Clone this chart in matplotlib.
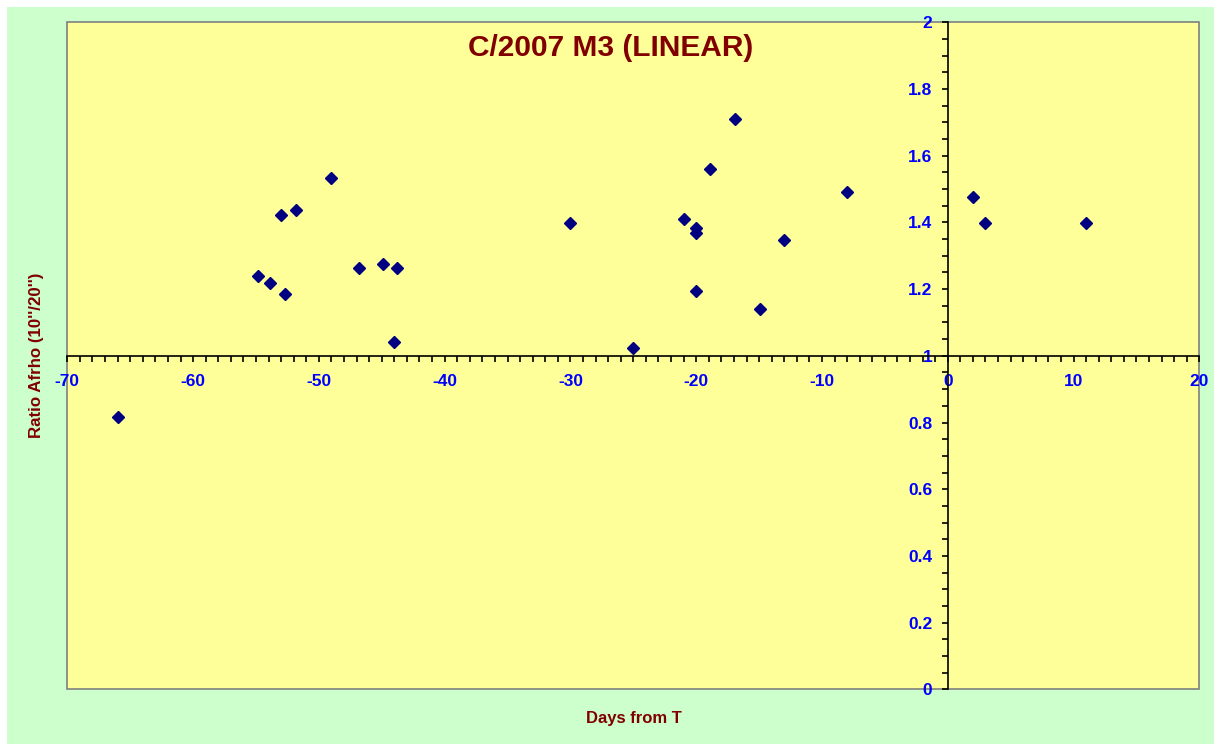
import matplotlib.pyplot as plt
from matplotlib.patches import Rectangle
from matplotlib.ticker import MultipleLocator, FuncFormatter

plt.rcParams['font.family'] = ['Liberation Sans', 'DejaVu Sans']

# Dias a partir de T e razao Afrho (10"/20")
days = [-66, -54.8, -53.9, -53, -52.7, -51.8, -49, -46.8, -44.9, -43.8, -44,
        -30, -25, -21, -20, -20, -20, -18.9, -16.9, -14.9, -13, -8, 2, 3, 11]
ratio = [0.817, 1.238, 1.217, 1.421, 1.184, 1.436, 1.532, 1.262, 1.275, 1.262, 1.040,
         1.397, 1.022, 1.409, 1.383, 1.369, 1.193, 1.559, 1.709, 1.139, 1.346, 1.490,
         1.475, 1.397, 1.397]

red = '#800000'
blue = '#0000FF'

fig = plt.figure(figsize=(12.21, 7.5), dpi=100)
fig.patch.set_facecolor('white')
# fundo verde do grafico
fig.patches.append(Rectangle((7/1221, 6/750), 1207/1221, 737/750, transform=fig.transFigure,
                             facecolor='#CCFFCC', edgecolor='none', zorder=-10))

ax = fig.add_axes([67.3/1221, 60.7/750, 1132/1221, 667/750])
ax.set_facecolor('#FFFF99')
ax.plot(days, ratio, linestyle='none', marker='D', markersize=6,
        color='#000080', zorder=5, clip_on=False)

ax.set_xlim(-70, 20)
ax.set_ylim(0, 2)

# eixos cruzando em x=0 e y=1
ax.spines['left'].set_position(('data', 0))
ax.spines['bottom'].set_position(('data', 1))
ax.spines['top'].set_visible(False)
ax.spines['right'].set_visible(False)
for s in ['left', 'bottom']:
    ax.spines[s].set_color('black')
    ax.spines[s].set_linewidth(1.2)
ax.add_patch(Rectangle((0, 0), 1, 1, transform=ax.transAxes, fill=False,
                       edgecolor='#808080', linewidth=1.2, clip_on=False, zorder=1))

ax.xaxis.set_major_locator(MultipleLocator(10))
ax.xaxis.set_minor_locator(MultipleLocator(1))
ax.yaxis.set_major_locator(MultipleLocator(0.2))
ax.yaxis.set_minor_locator(MultipleLocator(0.05))
ax.yaxis.set_major_formatter(FuncFormatter(lambda v, p: ('%.1f' % v).rstrip('0').rstrip('.')))
ax.xaxis.set_major_formatter(FuncFormatter(lambda v, p: '%d' % v))

ax.tick_params(which='both', direction='out', color='black', width=1.2)
ax.tick_params(which='major', length=4)
ax.tick_params(which='minor', length=4)
ax.tick_params(axis='x', which='major', pad=9)
ax.tick_params(axis='y', which='major', pad=7)
for lab in ax.get_xticklabels() + ax.get_yticklabels():
    lab.set_color(blue)
    lab.set_fontweight('bold')
    lab.set_fontsize(12.5)

fig.text(610.5/1221, 1 - 48/750, 'C/2007 M3 (LINEAR)', color=red, fontsize=21.5,
         fontweight='bold', ha='center', va='center')
fig.text(37/1221, 1 - 355.8/750, 'Ratio Afrho (10\'\'/20\'\')', color=red, fontsize=12.2,
         fontweight='bold', ha='center', va='center', rotation=90)
fig.text(634/1221, 1 - 719/750, 'Days from T', color=red, fontsize=12,
         fontweight='bold', ha='center', va='center')

plt.savefig('out.png', dpi=100, facecolor=fig.get_facecolor())
